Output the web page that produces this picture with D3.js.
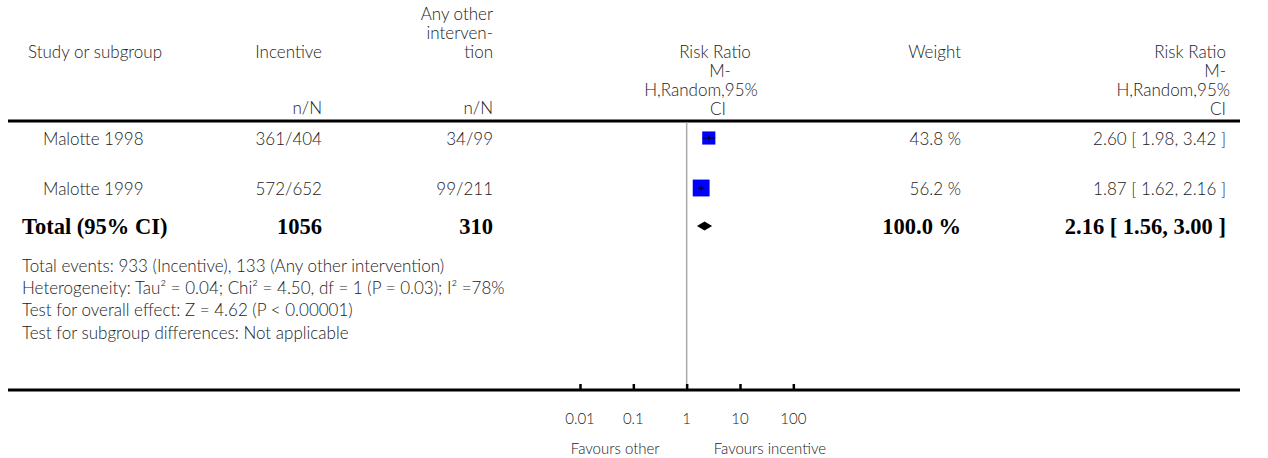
<!DOCTYPE html>
<html>
<head>
<meta charset="utf-8">
<script src="https://cdn.jsdelivr.net/npm/d3@7"></script>
<style>
  html, body { margin: 0; padding: 0; background: #fff; }
  svg { display: block; }
  .reg { font-family: Lato, "Open Sans", sans-serif; font-weight: 300; font-size: 17px; fill: #222; }
  .small { font-size: 15px; }
  .bold { font-family: "Liberation Serif", "DejaVu Serif", serif; font-weight: bold; font-size: 22.5px; fill: #000; }
</style>
</head>
<body>
<svg id="chart" width="1268" height="458"></svg>
<script>
// ---- data ----
const studies = ["Malotte 1998", "Malotte 1999"];
const incentiveCounts = ["361/404", "572/652"];
const otherCounts = ["34/99", "99/211"];
const weights = [43.8, 56.2];
const rr = [2.60, 1.87];
const rrLower = [1.98, 1.62];
const rrUpper = [3.42, 2.16];
const totalLabel = "Total (95% CI)";
const totalIncentive = "1056";
const totalOther = "310";
const totalWeight = 100.0;
const totalRR = 2.16;
const totalLower = 1.56;
const totalUpper = 3.00;
const footnotes = [
  "Total events: 933 (Incentive), 133 (Any other intervention)",
  "Heterogeneity: Tau² = 0.04; Chi² = 4.50, df = 1 (P = 0.03); I² =78%",
  "Test for overall effect: Z = 4.62 (P < 0.00001)",
  "Test for subgroup differences: Not applicable"
];
const tickValues = [0.01, 0.1, 1, 10, 100];
const tickLabels = ["0.01", "0.1", "1", "10", "100"];
const favoursLeft = "Favours other";
const favoursRight = "Favours incentive";

// ---- layout ----
const svg = d3.select("#chart");
const x = d3.scaleLog().domain([0.01, 100]).range([580, 793.33]);
const boxSize = d3.scaleLinear().domain([0, 100]).range([0, 30]);
const rowY = d3.scalePoint().domain(studies).range([138, 188]);
const totalY = 226;
const footY = d3.scaleLinear().domain([0, 3]).range([265, 332]);
const lineY = 121, axisY = 390;
const colStudyX = 43, colIncX = 322, colOthX = 493, colWX = 961, colRRX = 1226;
const fmt = d3.format(".2f");
const LH = 19;

// headers
function hdr(lines, xx, y0, anchor, dy) {
  const t = svg.append("text").attr("class", "reg").attr("text-anchor", anchor);
  lines.forEach((s, i) => {
    t.append("tspan").attr("x", Array.isArray(xx) ? xx[i] : xx).attr("y", y0 + i * dy).attr("dominant-baseline", "central").text(s);
  });
}
hdr(["Study or subgroup"], 28, 51, "start", LH);
hdr(["Incentive"], colIncX, 51, "end", LH);
hdr(["Any other", "interven-", "tion"], colOthX, 13, "end", LH);
hdr(["n/N"], colIncX, 107, "end", LH);
hdr(["n/N"], colOthX, 107, "end", LH);
hdr(["Risk Ratio", "M-", "H,Random,95%", "CI"], [715, 720, 701, 718], 51, "middle", LH);
hdr(["Weight"], colWX, 51, "end", LH);
hdr(["Risk Ratio", "M-", "H,Random,95%", "CI"], [colRRX, colRRX, colRRX + 4, colRRX], 51, "end", LH);

// rules
svg.append("line").attr("x1", 8).attr("x2", 1240).attr("y1", lineY).attr("y2", lineY)
  .attr("stroke", "#000").attr("stroke-width", 3);
svg.append("line").attr("x1", 8).attr("x2", 1240).attr("y1", axisY).attr("y2", axisY)
  .attr("stroke", "#000").attr("stroke-width", 3);
svg.append("line").attr("x1", x(1)).attr("x2", x(1)).attr("y1", lineY + 1.5).attr("y2", axisY)
  .attr("stroke", "#aaa").attr("stroke-width", 1.5);

// study rows
studies.forEach((s, i) => {
  const y = rowY(s);
  const g = svg.append("g");
  g.append("text").attr("class", "reg").attr("x", colStudyX).attr("y", y).attr("dominant-baseline", "central").text(s);
  g.append("text").attr("class", "reg").attr("x", colIncX).attr("y", y).attr("text-anchor", "end").attr("dominant-baseline", "central").text(incentiveCounts[i]);
  g.append("text").attr("class", "reg").attr("x", colOthX).attr("y", y).attr("text-anchor", "end").attr("dominant-baseline", "central").text(otherCounts[i]);
  g.append("text").attr("class", "reg").attr("x", colWX).attr("y", y).attr("text-anchor", "end").attr("dominant-baseline", "central").text(d3.format(".1f")(weights[i]) + " %");
  g.append("text").attr("class", "reg").attr("x", colRRX).attr("y", y).attr("text-anchor", "end").attr("dominant-baseline", "central")
    .text(`${fmt(rr[i])} [ ${fmt(rrLower[i])}, ${fmt(rrUpper[i])} ]`);
  const b = boxSize(weights[i]);
  g.append("rect").attr("x", x(rr[i]) - b / 2).attr("y", y - b / 2).attr("width", b).attr("height", b).attr("fill", "#0000ff");
  g.append("line").attr("x1", x(rrLower[i])).attr("x2", x(rrUpper[i])).attr("y1", y).attr("y2", y).attr("stroke", "#000").attr("stroke-width", 1);
  g.append("line").attr("x1", x(rr[i])).attr("x2", x(rr[i])).attr("y1", y - 2.5).attr("y2", y + 2.5).attr("stroke", "#000").attr("stroke-width", 1);
});

// total row
svg.append("text").attr("class", "bold").attr("x", 22).attr("y", totalY).attr("dominant-baseline", "central").text(totalLabel);
svg.append("text").attr("class", "bold").attr("x", colIncX).attr("y", totalY).attr("text-anchor", "end").attr("dominant-baseline", "central").text(totalIncentive);
svg.append("text").attr("class", "bold").attr("x", colOthX).attr("y", totalY).attr("text-anchor", "end").attr("dominant-baseline", "central").text(totalOther);
svg.append("text").attr("class", "bold").attr("x", colWX).attr("y", totalY).attr("text-anchor", "end").attr("dominant-baseline", "central").text(d3.format(".1f")(totalWeight) + " %");
svg.append("text").attr("class", "bold").attr("x", colRRX).attr("y", totalY).attr("text-anchor", "end").attr("dominant-baseline", "central")
  .text(`${fmt(totalRR)} [ ${fmt(totalLower)}, ${fmt(totalUpper)} ]`);
const dh = 4.5;
svg.append("path")
  .attr("d", `M${x(totalLower)},${totalY} L${x(totalRR)},${totalY - dh} L${x(totalUpper)},${totalY} L${x(totalRR)},${totalY + dh} Z`)
  .attr("fill", "#000");

// footnotes
footnotes.forEach((f, i) => {
  svg.append("text").attr("class", "reg").attr("x", 22).attr("y", footY(i)).attr("dominant-baseline", "central").text(f);
});

// axis
const axis = d3.axisTop(x).tickValues(tickValues).tickSize(6).tickFormat("");
const ag = svg.append("g").attr("transform", `translate(0,${axisY})`).call(axis);
ag.select(".domain").remove();
ag.selectAll(".tick line").attr("stroke", "#000").attr("stroke-width", 2.5);
tickValues.forEach((v, i) => {
  svg.append("text").attr("class", "reg small").attr("x", x(v)).attr("y", 418).attr("text-anchor", "middle").attr("dominant-baseline", "central").text(tickLabels[i]);
});
svg.append("text").attr("class", "reg small").attr("x", x(1) - 27).attr("y", 448).attr("text-anchor", "end").attr("dominant-baseline", "central").text(favoursLeft);
svg.append("text").attr("class", "reg small").attr("x", x(1) + 27).attr("y", 448).attr("text-anchor", "start").attr("dominant-baseline", "central").text(favoursRight);
</script>
</body>
</html>
